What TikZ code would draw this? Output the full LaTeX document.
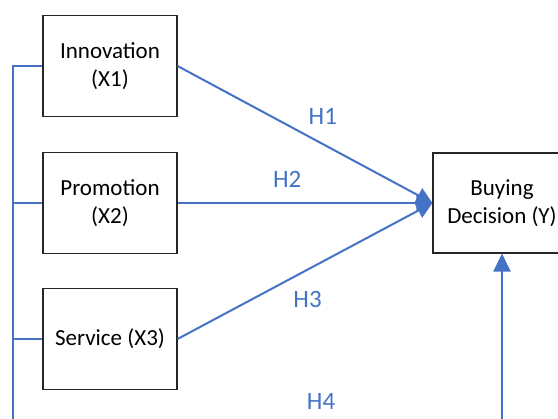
\documentclass[tikz,border=0pt]{standalone}
\usepackage{fontspec}
\setmainfont{Carlito}
\usepackage{xcolor}
\usetikzlibrary{positioning,arrows.meta,calc}
\definecolor{hblue}{HTML}{4472C4}

\begin{document}
\begin{tikzpicture}[x=1pt, y=-1pt, >={Triangle[length=16pt,width=16pt]},
    every node/.style={font=\fontsize{23}{28}\selectfont, align=center},
    box/.style={draw=black!85, line width=1.1pt, minimum width=134pt, minimum height=101pt, inner sep=2pt},
    link/.style={draw=hblue, line width=2pt},
    hyp/.style={font=\fontsize{25}{30}\selectfont, text=hblue, inner sep=3pt}]
  \path[use as bounding box, clip] (0,0) rectangle (558,419);

  \node[box] (inno)  at (110,66)  {Innovation\\(X1)};
  \node[box] (promo) at (110,203) {Promotion\\(X2)};
  \node[box] (serv)  at (110,339) {Service (X3)};
  \node[box, minimum width=138pt, minimum height=100pt] (buy) at (502,203) {Buying\\Decision (Y)};
  \coordinate (corner) at (13,426);

  \draw[link, ->] (inno.east)  -- node[hyp, pos=0.57, above=16pt] {H1} (buy.west);
  \draw[link, ->] (promo.east) -- node[hyp, pos=0.43, above=11pt] {H2} (buy.west);
  \draw[link, ->] (serv.east)  -- node[hyp, pos=0.51, below=18pt] {H3} (buy.west);

  % simultaneous effect
  \draw[link, -{Triangle[length=18pt,width=17pt]}] (inno.west) -| (corner)
      -| node[hyp, pos=0.315, above=12pt] {H4} (buy.south);
  \draw[link] (promo.west) -- (promo.west -| corner);
  \draw[link] (serv.west) -- (serv.west -| corner);
\end{tikzpicture}
\end{document}
